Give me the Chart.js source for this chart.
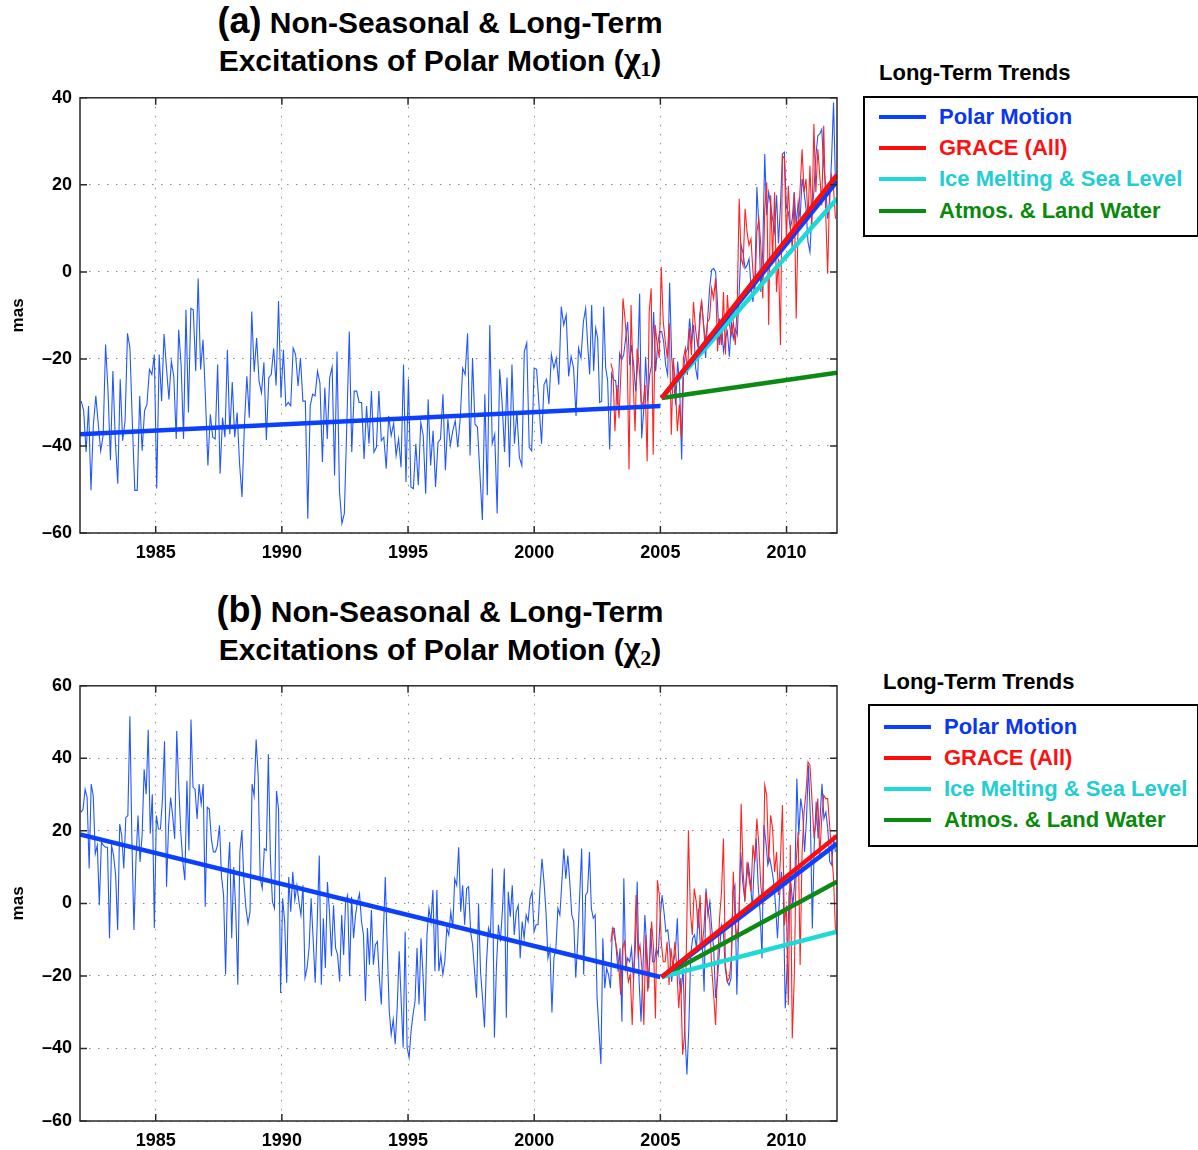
<!DOCTYPE html>
<html>
<head>
<meta charset="utf-8">
<script src="https://cdn.jsdelivr.net/npm/chart.js@4.4.1/dist/chart.umd.min.js"></script>
<style>
  body { margin: 0; background: #fff; font-family: 'Liberation Sans', Arial, sans-serif; }
  #page { position: relative; width: 1198px; height: 1150px; overflow: hidden; background: #fff; }
  .title { position: absolute; left: 0; width: 880px; text-align: center; font-weight: bold; font-size: 30px; line-height: 36px; color: #000; }
  .title .tag { font-size: 36px; }
  .title .chi { font-family: 'Liberation Serif', serif; font-size: 36px; }
  .title sub { font-family: 'Liberation Serif', serif; font-size: 22px; vertical-align: -5px; }
  .panel { position: absolute; left: 0; }
  .legTitle { position: absolute; font-weight: bold; font-size: 22px; color: #000; }
  .legBox { position: absolute; border: 2px solid #000; background: #fff; box-sizing: border-box; }
  .legRow { position: absolute; left: 14px; height: 31px; display: flex; align-items: center; font-weight: bold; font-size: 22px; white-space: nowrap; }
  .legRow i { display: inline-block; width: 47px; height: 4px; margin-right: 13px; }
</style>
</head>
<body>
<div id="page">
  <div class="title" style="top:3px"><span class="tag">(a)</span> Non-Seasonal &amp; Long-Term<br>Excitations of Polar Motion (<span class="chi">χ</span><sub>1</sub>)</div>
  <canvas id="chartA" class="panel" width="850" height="487" style="top:79px"></canvas>
  <div class="legTitle" style="left:879px; top:60px">Long-Term Trends</div>
  <div class="legBox" id="legendA" style="left:863px; top:96px; width:336px; height:141px"></div>

  <div class="title" style="top:592px"><span class="tag">(b)</span> Non-Seasonal &amp; Long-Term<br>Excitations of Polar Motion (<span class="chi">χ</span><sub>2</sub>)</div>
  <canvas id="chartB" class="panel" width="850" height="487" style="top:667px"></canvas>
  <div class="legTitle" style="left:883px; top:669px">Long-Term Trends</div>
  <div class="legBox" id="legendB" style="left:868px; top:704px; width:331px; height:143px"></div>
</div>
<script>
// axes
const xTicks = [1985, 1990, 1995, 2000, 2005, 2010];
const yTicksA = [-60, -40, -20, 0, 20, 40];
const yTicksB = [-60, -40, -20, 0, 20, 40, 60];

// segment boundaries (decimal years) for the monthly series
const pmSegYears = [1982.0, 1992.33, 2002.0, 2007.15, 2011.98];
const graceSegYears = [2003.0, 2007.15, 2011.98];

// chi1 - polar motion excitation (mas)
const chi1Pm1 = [-29.7,-31.9,-41.4,-30.8,-50.2,-35.0,-28.5,-35.0,-41.1,-37.6,-16.7,-27.4,-43.3,-22.8,-38.8,-48.7,-24.7,-38.8,-34.2,-14.1,-17.5,-35.0,-50.2,-50.2,-28.5,-41.1,-31.9,-30.4,-22.4,-23.6,-19.0,-49.8,-19.0,-29.7,-14.3,-22.1,-29.3,-20.5,-24.0,-38.4,-13.3,-21.3,-38.4,-8.7,-32.3,-8.4,-8.7,-22.8,-1.5,-22.4,-15.6,-28.9,-44.5,-32.7,-38.0,-38.4,-21.3,-46.4,-33.5,-38.0,-17.9,-37.3,-25.3,-38.0,-32.3,-44.1,-51.7,-35.0,-24.0,-33.5,-9.1,-23.0,-15.2,-25.1,-27.8,-20.8,-38.6,-24.3,-23.6,-17.6,-26.1,-6.7,-28.9,-17.9,-30.8,-30.0,-30.8,-17.5,-19.0,-26.2,-19.8,-29.7,-29.7,-56.7,-30.8,-28.1,-28.5,-22.8,-25.6,-43.7,-26.6,-38.4,-24.3,-21.9,-46.8,-18.3,-50.2];
const chi1Pm2 = [-57.8,-55.5,-35.0,-13.7,-41.4,-27.4,-27.4,-30.0,-30.0,-43.0,-30.8,-39.5,-27.4,-41.4,-40.3,-27.4,-38.8,-38.0,-45.2,-33.1,-37.6,-34.8,-42.2,-38.4,-44.9,-21.3,-48.3,-24.7,-49.4,-49.8,-39.5,-49.0,-34.6,-37.6,-51.0,-29.3,-44.5,-36.5,-49.4,-39.2,-38.4,-28.1,-45.6,-33.8,-39.9,-36.5,-34.2,-40.3,-33.8,-22.1,-23.6,-14.1,-42.2,-19.8,-35.0,-35.7,-46.4,-57.0,-28.1,-51.3,-12.2,-39.5,-37.3,-55.5,-22.4,-30.0,-41.4,-24.3,-44.9,-21.3,-39.5,-31.9,-42.6,-44.5,-18.3,-16.3,-40.3,-41.1,-22.1,-22.4,-30.8,-39.5,-25.9,-24.7,-30.4,-19.0,-22.1,-19.8,-25.9,-8.0,-12.2,-9.9,-24.0,-19.4,-22.1,-33.1,-17.5,-19.8,-11.4];
const chi1Pm3 = [-8.4,-16.7,-23.6,-7.6,-22.8,-12.9,-15.2,-30.0,-29.7,-8,-22,-25,-40.8,-23.3,-24.8,-25,-30.5,-18.7,-20.2,-19.1,-15.3,-11.5,-21.4,-16.8,-21.4,-27.5,-21.4,-5,-38.2,-32,-19.5,-29.8,-23.7,-21.4,-9.2,-22.9,-16.8,-13.7,-13.7,-16,-21.4,-23.7,-2.5,-19.5,-25.2,-30.5,-20.6,-26,-43.1,-22.1,-18.7,-17.6,-10.7,-16,-12.2,-22.1,-24.8,-9.9,-6.9,-12.2,-19.8,-10.7,-3.8,0.4,0.8];
const chi1Pm4 = [0,-7.6,-16.8,-12.2,-18.3,-15.3,-13.7,-19.5,-11.5,-15.3,-13,-14.5,-4.6,6.1,4.2,0.8,1.5,3,-3,-6.9,-1.5,19.5,10.7,-4.6,5.3,27.1,13,18.3,15.3,12.2,9.2,17.6,6.5,15.3,27.1,27.5,14.9,13.7,9.9,12.2,18.3,10.7,16,12.2,21.4,18.3,14.5,6.9,4.6,13.7,18.3,26.7,31.3,31.7,32.8,24.4,19.8,12.2,16,26,38.9,19.8];
// chi1 - GRACE (all)
const chi1Grace1 = [-21,-22.9,-36.6,-26,-33.6,-22.9,-6.1,-10.7,-16.8,-45.4,-7.6,-24.4,-36.6,-17.6,-21.4,-29.8,-30.5,-26,-43.5,-9.2,-3.8,-42,-12.2,-16.8,-19.8,1.1,-11.5,-16,-19.8,-11.8,-37.4,-19.8,-26,-36.6,-30.5,-38.2,-19.8,-17.6,-23.7,-13,-19.1,-6.9,-13,-16.8,-13,-6.5,-12.2,-16,-11.5,-10.7,-3.8,-6.1];
const chi1Grace2 = [-1.5,-18.3,-10.7,-16.8,-4.6,-19,-5.3,-12.2,-14.5,-11.5,-16.8,-7.6,16.8,3,1.5,14.5,9.2,6.1,7.6,0,-4.6,9.2,12.2,6.1,-6.1,14.5,20.6,-12.2,17.6,3,18.3,-4.6,3,-16.8,26.7,26,7.6,19.8,10.7,5.3,18.3,-10.7,11.5,19.1,28.2,18.3,21.4,12.2,24.4,10.7,34,18.3,28.2,22.1,15.3,33.6,13.7,-0.4,18.3,22.1,19.1,12.2];

// chi2 - polar motion excitation (mas)
const chi2Pm1 = [25.1,26,31.5,29.2,9.6,32.9,29.7,13.7,16,-0.5,16.9,16,15.5,15.5,-9.6,16,13.2,7.8,-7.3,21.9,18.7,9.6,23.7,24.2,51.6,16.9,-7.3,12.3,24.2,11.4,18.7,37,30.1,47.9,19.2,30.1,-6.8,24.2,20.5,20.5,28.8,44.7,4.6,21.5,29.2,24.2,17.8,47.5,32.4,19.6,11.4,6.4,33.8,14.6,50.7,32,31.5,23.3,32.9,27.4,32.9,-0.9,26.5,26,17.8,14.2,14.2,16,21.5,7.3,2.3,-19.6,6.8,16.9,-9.6,10,-2.3,-22.4,14.2,20.1,5.9,-1.4,-5.5,-2.3,32.9,29.7,45.2,35.2,6.8,4.1,15.1,14.6,41.1,12.3,0.5,-1.4,31,26,-24.7,1.4,-5,-21.9,7.3,-2.3,8.7,0.9,5,0.5,-3.2,5,-20.5,-17.8,-12.3,1.4,-10,-21.9,-5,13.2,-22.4,-4.1,-17.8,5.9,-2.3,-14.6,-0.5,-12.3,-14.2,-21.5];
const chi2Pm2 = [-3.2,-14.2,0.5,2.3,-20.1,1.8,-9.6,-3.2,0.5,2.7,-5,-8.7,-26.9,-6.8,-16.9,-1.8,-16.9,-11.4,-10.5,-20.5,-27.9,-8.7,7.3,-12.3,-29.7,-36.1,-32,-38.8,-28.8,-13.2,-26.9,-39.7,-7.8,-39.7,-42.5,-35.2,-30.6,-26.9,-12.3,-27.9,-9.6,-19.6,-32.4,-8.7,-1.4,-5,3.7,-18.7,3.7,-18.7,-14.2,-19.6,-16,-6.8,-8.7,-2.3,-6.8,6.8,5,15.5,-2.3,5,-5.9,4.1,4.6,-7.8,-11.4,-18.7,-26,0,-18.7,-26,-34.2,-16.4,-6.8,-8.7,9.6,-37,-17.8,-5.9,-10.5,-2.3,9.6,-31.5,3.2,-3.7,5,-8.7,-2.3,-0.5,-15.1,-5,-9.6,-3.2,-5,1.4,3.2,-7.8,-5.9,-5.9,4.1,12.3,5.9,-2.3,-15.1,-12.3,-30.1,-15.1,-12.3,-1.4,-3.2,5.9,15.1,6.8,13.2,5.9,-3.2,-5,-20.5,-10.5,2.3,15.1,-19.6];
const chi2Pm3 = [2.3,3.2,14.2,-1.4,-4.1,-3.2,-26,-35.2,-44.3,-9.6,-23.4,-17.9,-19.7,-23.4,-6.9,-6.9,-12.4,-18.8,-12.4,-32.6,6.9,-17.9,-15.1,-16.1,-12.4,-20.6,-12.4,6,-21.6,-32.6,-17.9,-3.2,-12.4,-23.4,-6.9,-16.1,-16.1,-12.4,-14.2,-4.1,2.3,-2.3,-7.8,-7.3,-12.4,-21.6,-16.1,-13.3,-4.1,-21.6,-24.3,-17.9,-36.2,-47.2,-34.4,-14.2,-9.6,-8.7,-12.4,-1.4,-11.5,-10.6,-24.3,4.1,-3.2,0.5,-6.9,-12.4];
const chi2Pm4 = [-26.1,-20.6,-13.3,-6,-7.8,-17.9,-21.6,-22.5,-20.6,3.2,5,-25.2,-4.1,14.2,6,1.4,6.9,10.6,6,-1.4,10.6,17.9,5,-2.3,-15.1,21.6,17,10.6,12.4,9.6,6,-0.5,-9.6,1.4,8.7,3.2,-28.9,-17,3.2,5,-0.5,6.9,34.4,18.8,28.9,25.2,14.2,23.4,38.1,23.4,-6.9,16.1,28,17.9,23.4,33,23.4,25.2,20.6,11.5,10.6,17.9,14.2];
// chi2 - GRACE (all)
const chi2Grace1 = [-10.6,-6.9,-9.6,-12.4,-16.1,-25.2,-12.4,-10.6,-16.1,-21.6,-19.7,-33.5,-16.1,2.3,-14.2,-11.5,-17.9,-33.5,-8.7,-24.3,-16.1,-5,-12.4,-31.7,6.4,2.3,-10.6,-16.1,-16.1,-10.6,-22.5,-12.4,-17.9,-10.6,-17.9,-28.9,-20.6,-41.7,-36.2,-10.6,20.2,-2.3,-8.7,4.1,0.5,-6.9,2.3,-12.4,-6.9,3.2,-1.4,-5,-17.9,-25.2];
const chi2Grace2 = [-33.5,-17,-4.1,3.2,17.9,-17,-21.6,-20.6,-15.1,8.7,-6,-9.6,-2.3,27.5,8.7,0.5,11.5,6.9,3.2,16.1,11.5,23.4,16.1,5,-0.5,32.6,29.8,11.5,24.3,20.6,8.7,14.2,2.3,12.4,27.1,-6,-0.5,-28,16.1,-37.2,-20.6,11.5,19.7,-17,14.2,25.2,30.7,39,38.1,28.9,18.8,21.6,28.9,13.3,23.4,29.8,28.9,28.9,21.6,14.2,6.9,-7.8];

// long-term trend lines (start / end values)
const trendYearsPre = [1982, 2005];
const trendYearsPost = [2005.05, 2012];
const chi1TrendPmPre = [-37.3, -30.8];
const chi1TrendPm = [-29, 20.8];
const chi1TrendGrace = [-29, 22.3];
const chi1TrendIce = [-29, 16.8];
const chi1TrendAtmos = [-29, -23.2];
const chi2TrendPmPre = [19, -20.3];
const chi2TrendPm = [-20.3, 16.5];
const chi2TrendGrace = [-20.3, 18.6];
const chi2TrendIce = [-20.3, -7.8];
const chi2TrendAtmos = [-20.3, 6];

// legend
const legendLabels = ['Polar Motion', 'GRACE (All)', 'Ice Melting & Sea Level', 'Atmos. & Land Water'];
const legendLineColors = ['#0b40ff', '#ff0d0d', '#1fd8d8', '#0b8a14'];
const legendTextColors = ['#0a36f0', '#ff1010', '#22cdd4', '#0a8a0a'];

const thinBlue = '#2257ff';
const thinRed = '#ff2222';

function spread(vals, t0, t1) {
    const step = (t1 - t0) / vals.length;
    return vals.map((v, i) => ({ x: t0 + (i + 0.5) * step, y: v }));
}

function pairs(years, vals) {
    return years.map((t, i) => ({ x: t, y: vals[i] }));
}

const framePlugin = {
    id: 'frame',
    afterDatasetsDraw(chart) {
        const { ctx, chartArea: a, scales: { x, y } } = chart;
        ctx.save();
        ctx.strokeStyle = '#2a2a2a';
        ctx.lineWidth = 1.5;
        ctx.strokeRect(a.left, a.top, a.right - a.left, a.bottom - a.top);
        ctx.beginPath();
        x.ticks.forEach(t => {
            const px = x.getPixelForValue(t.value);
            ctx.moveTo(px, a.bottom); ctx.lineTo(px, a.bottom - 7);
            ctx.moveTo(px, a.top); ctx.lineTo(px, a.top + 7);
        });
        y.ticks.forEach(t => {
            const py = y.getPixelForValue(t.value);
            ctx.moveTo(a.left, py); ctx.lineTo(a.left + 7, py);
            ctx.moveTo(a.right, py); ctx.lineTo(a.right - 7, py);
        });
        ctx.stroke();
        ctx.restore();
    }
};

function line(data, color, width, order) {
    return {
        data: data,
        borderColor: color,
        backgroundColor: color,
        borderWidth: width,
        pointRadius: 0,
        tension: 0,
        fill: false,
        order: order
    };
}

function buildChart(canvasId, p) {
    const pm = [].concat(
        spread(p.pm[0], pmSegYears[0], pmSegYears[1]),
        spread(p.pm[1], pmSegYears[1], pmSegYears[2]),
        spread(p.pm[2], pmSegYears[2], pmSegYears[3]),
        spread(p.pm[3], pmSegYears[3], pmSegYears[4])
    );
    const grace = [].concat(
        spread(p.grace[0], graceSegYears[0], graceSegYears[1]),
        spread(p.grace[1], graceSegYears[1], graceSegYears[2])
    );
    const tickFont = { family: "'Liberation Sans', Arial, sans-serif", size: 18, weight: 'bold' };

    return new Chart(document.getElementById(canvasId), {
        type: 'line',
        data: {
            datasets: [
                line(pm, thinBlue, 1.1, 10),
                line(grace, thinRed, 1.1, 9),
                line(pairs(trendYearsPre, p.pmPre), legendLineColors[0], 4.5, 8),
                line(pairs(trendYearsPost, p.atmos), legendLineColors[3], 4.5, 7),
                line(pairs(trendYearsPost, p.ice), legendLineColors[2], 4.5, 6),
                line(pairs(trendYearsPost, p.pmPost), legendLineColors[0], 4.5, 5),
                line(pairs(trendYearsPost, p.gracePost), legendLineColors[1], 4.5, 4)
            ]
        },
        options: {
            responsive: false,
            maintainAspectRatio: false,
            animation: false,
            layout: { padding: { top: 10, right: 13, left: 0, bottom: 0 } },
            plugins: {
                legend: { display: false },
                tooltip: { enabled: false }
            },
            scales: {
                x: {
                    type: 'linear',
                    min: 1982,
                    max: 2012,
                    afterBuildTicks: s => { s.ticks = xTicks.map(v => ({ value: v })); },
                    afterFit: s => { s.height = 33; },
                    ticks: {
                        color: '#000',
                        font: tickFont,
                        padding: 9,
                        maxRotation: 0,
                        autoSkip: false,
                        callback: v => String(v)
                    },
                    grid: { color: '#8a8a8a', lineWidth: 1, drawTicks: false },
                    border: { display: false, dash: [1.5, 7.5] }
                },
                y: {
                    min: p.yTicks[0],
                    max: p.yTicks[p.yTicks.length - 1],
                    afterBuildTicks: s => { s.ticks = p.yTicks.map(v => ({ value: v })); },
                    afterFit: s => { s.width = 80; },
                    ticks: {
                        color: '#000',
                        font: tickFont,
                        padding: 8,
                        callback: v => v < 0 ? '\u2013' + Math.abs(v) : String(v)
                    },
                    title: {
                        display: true,
                        text: 'mas',
                        color: '#000',
                        font: { family: "'Liberation Sans', Arial, sans-serif", size: 17, weight: 'bold' },
                        padding: { top: 8, bottom: 0 }
                    },
                    grid: { color: '#8a8a8a', lineWidth: 1, drawTicks: false },
                    border: { display: false, dash: [1.5, 7.5] }
                }
            }
        },
        plugins: [framePlugin]
    });
}

function buildLegend(boxId, top0) {
    const box = document.getElementById(boxId);
    legendLabels.forEach((label, i) => {
        const row = document.createElement('div');
        row.className = 'legRow';
        row.style.top = (top0 + i * 31.2) + 'px';
        const sw = document.createElement('i');
        sw.style.background = legendLineColors[i];
        const txt = document.createElement('span');
        txt.textContent = label;
        txt.style.color = legendTextColors[i];
        row.appendChild(sw);
        row.appendChild(txt);
        box.appendChild(row);
    });
}

buildChart('chartA', {
    pm: [chi1Pm1, chi1Pm2, chi1Pm3, chi1Pm4],
    grace: [chi1Grace1, chi1Grace2],
    pmPre: chi1TrendPmPre,
    pmPost: chi1TrendPm,
    gracePost: chi1TrendGrace,
    ice: chi1TrendIce,
    atmos: chi1TrendAtmos,
    yTicks: yTicksA
});

buildChart('chartB', {
    pm: [chi2Pm1, chi2Pm2, chi2Pm3, chi2Pm4],
    grace: [chi2Grace1, chi2Grace2],
    pmPre: chi2TrendPmPre,
    pmPost: chi2TrendPm,
    gracePost: chi2TrendGrace,
    ice: chi2TrendIce,
    atmos: chi2TrendAtmos,
    yTicks: yTicksB
});

buildLegend('legendA', 3.5);
buildLegend('legendB', 5);
</script>
</body>
</html>
